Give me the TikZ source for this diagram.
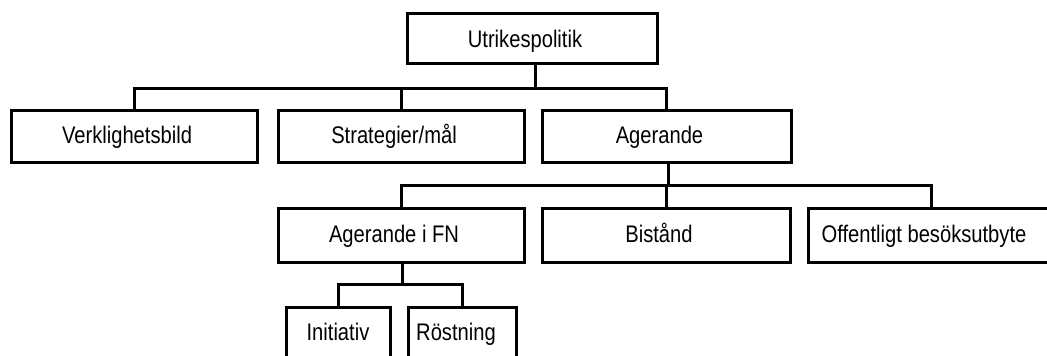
\documentclass[tikz,border=0pt]{standalone}
\usepackage{fontspec}
\setmainfont{Liberation Sans}[FakeStretch=0.84]
\begin{document}
\begin{tikzpicture}[x=1pt,y=-1pt,
  box/.style={draw=black, line width=3pt, rectangle, inner sep=0pt,
    minimum height=52pt, text height=17pt, text depth=3pt,
    font=\fontsize{24}{28}\selectfont},
  wide/.style={box, minimum width=246pt, execute at end node={\hspace*{14pt}}},
  conn/.style={draw=black, line width=3pt}]
\useasboundingbox (0,0) rectangle (1047,356);
\clip (0,0) rectangle (1047,356);
\node[wide, minimum width=250pt, minimum height=50pt, text height=19pt, text depth=1pt] (utr) at (532,38) {Utrikespolitik};
\node[wide] (verk) at (134,136) {Verklighetsbild};
\node[wide] (strat) at (401,136) {Strategier/mål};
\node[wide, minimum width=249pt] (agr) at (666.5,136) {Agerande};
\node[wide, minimum height=54pt] (fn) at (401,235) {Agerande i FN};
\node[wide, minimum width=248pt, minimum height=54pt] (bist) at (666,235) {Bistånd};
\node[wide, minimum height=54pt] (off) at (931,235) {Offentligt besöksutbyte};
\node[box, minimum width=104pt] (init) at (338,333) {Initiativ};
\node[box, minimum width=108pt, execute at end node={\hspace*{12pt}}] (rost) at (462,333) {Röstning};
\coordinate (b1) at (535,88);
\coordinate (b2) at (668,185);
\coordinate (b3) at (402,284);
% level 1
\draw[conn] (utr.south -| b1) -- (b1);
\draw[conn] (verk.north) |- (agr.north |- b1) -- (agr.north);
\draw[conn] (strat.north) -- (strat.north |- b1);
% level 2
\draw[conn] (agr.south -| b2) -- (b2);
\draw[conn] (fn.north) |- (off.north |- b2) -- (off.north);
\draw[conn] (bist.north) -- (bist.north |- b2);
% level 3
\draw[conn] (fn.south -| b3) -- (b3);
\draw[conn] (init.north) |- (rost.north |- b3) -- (rost.north);
\end{tikzpicture}
\end{document}
